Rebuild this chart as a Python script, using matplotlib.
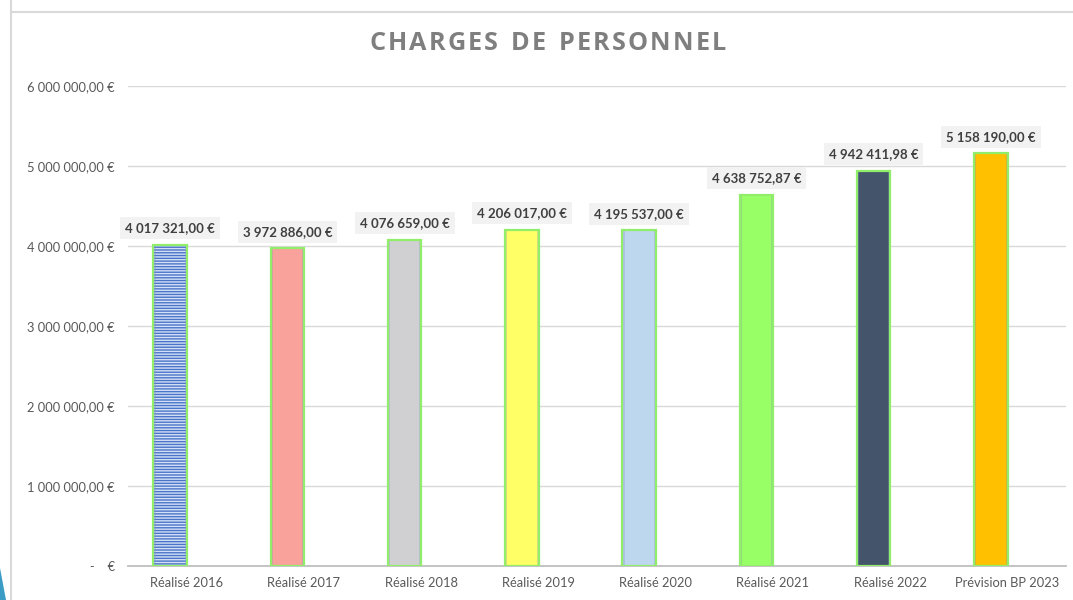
import matplotlib
matplotlib.use("Agg")
import matplotlib.pyplot as plt
from matplotlib.patches import Polygon
from matplotlib.lines import Line2D

categories = ["Réalisé 2016", "Réalisé 2017", "Réalisé 2018", "Réalisé 2019",
              "Réalisé 2020", "Réalisé 2021", "Réalisé 2022", "Prévision BP 2023"]
values = [4017321.00, 3972886.00, 4076659.00, 4206017.00,
          4195537.00, 4638752.87, 4942411.98, 5158190.00]
bar_colors = ["#4a74c9", "#f8a29b", "#d0d0d2", "#ffff66",
              "#bdd7ee", "#99ff66", "#44546a", "#ffc000"]
y_ticks = [0, 1000000, 2000000, 3000000, 4000000, 5000000, 6000000]
title = "CHARGES DE PERSONNEL"

FONT = ["Lato", "DejaVu Sans"]
plt.rcParams["font.family"] = FONT


def fr_money(v):
    s = f"{v:,.2f}".replace(",", " ").replace(".", ",")
    return s + " €"


W, H = 1073, 600
fig = plt.figure(figsize=(W / 100, H / 100), dpi=100)
ax = fig.add_axes([128 / W, 1 - 566 / H, (1066 - 128) / W, (566 - 86) / H])

x = list(range(len(categories)))
offset = -0.14
width = 0.286
bx = [xi + offset for xi in x]

# bars
for i, (xi, v, c) in enumerate(zip(bx, values, bar_colors)):
    if i == 0:
        ax.bar(xi, v, width=width, color=c, edgecolor="#d4e0f5", hatch="------",
               linewidth=0, zorder=3)
    else:
        ax.bar(xi, v, width=width, color=c, linewidth=0, zorder=3)
# subtle inner shading along the bar edges
ax.bar(bx, values, width=width * 0.93, facecolor="none", edgecolor="#7f8fc0",
       linewidth=1.2, alpha=0.35, zorder=3.5)
ax.bar(bx, values, width=width, facecolor="none", edgecolor="#90ee6a",
       linewidth=1.6, zorder=4)

# data labels
for xi, v in zip(bx, values):
    ax.annotate(fr_money(v), xy=(xi, v), xytext=(0, 7.5), textcoords="offset points",
                ha="center", va="bottom", fontsize=9.5, fontweight="bold",
                color="#404040", zorder=5,
                bbox=dict(boxstyle="square,pad=0.38", facecolor="#f2f2f2",
                          edgecolor="none"))

ax.set_xlim(-0.5, len(categories) - 0.5)
ax.set_ylim(0, 6000000)
ax.set_yticks(y_ticks)
ax.set_yticklabels(["-    €" if t == 0 else fr_money(t) for t in y_ticks])
ax.set_xticks(x)
ax.set_xticklabels(categories)
ax.tick_params(axis="both", length=0, labelsize=9.3, labelcolor="#595959")
ax.tick_params(axis="y", pad=9.5)
ax.tick_params(axis="x", pad=8)
ax.grid(axis="y", color="#d9d9d9", linewidth=1, zorder=0)
ax.set_axisbelow(True)
for s in ["top", "right", "left"]:
    ax.spines[s].set_visible(False)
ax.spines["bottom"].set_color("#bfbfbf")
ax.spines["bottom"].set_linewidth(1.3)

# title with letter spacing
renderer = fig.canvas.get_renderer()
tracking = 2.2  # px between letters
title_kw = dict(fontsize=18.2, fontweight="bold", color="#7f7f7f",
                family=["Open Sans", "DejaVu Sans"], va="center", ha="left")
widths = []
for ch in title:
    t = fig.text(0, 0, ch if ch != " " else "n", **title_kw)
    w = t.get_window_extent(renderer).width
    if ch == " ":
        w *= 0.5
    widths.append(w)
    t.remove()
total = sum(widths) + tracking * (len(title) - 1)
cx, cy = 547.5, H - 44
xpos = cx - total / 2
for ch, w in zip(title, widths):
    if ch != " ":
        fig.text(xpos / W, cy / H, ch, **title_kw)
    xpos += w + tracking

# chart frame lines
fig.add_artist(Line2D([11 / W, 1], [1 - 12 / H, 1 - 12 / H],
                      transform=fig.transFigure, color="#d9d9d9", linewidth=1.5))
fig.add_artist(Line2D([11 / W, 11 / W], [0, 1],
                      transform=fig.transFigure, color="#d9d9d9", linewidth=1.5))

# slide decoration at bottom-left
fig.add_artist(Polygon([(0, 1 - 568 / H), (6 / W, 0), (0, 0)], closed=True,
                       transform=fig.transFigure, facecolor="#3a9cc4",
                       edgecolor="none"))

fig.savefig("out.png", dpi=100)
